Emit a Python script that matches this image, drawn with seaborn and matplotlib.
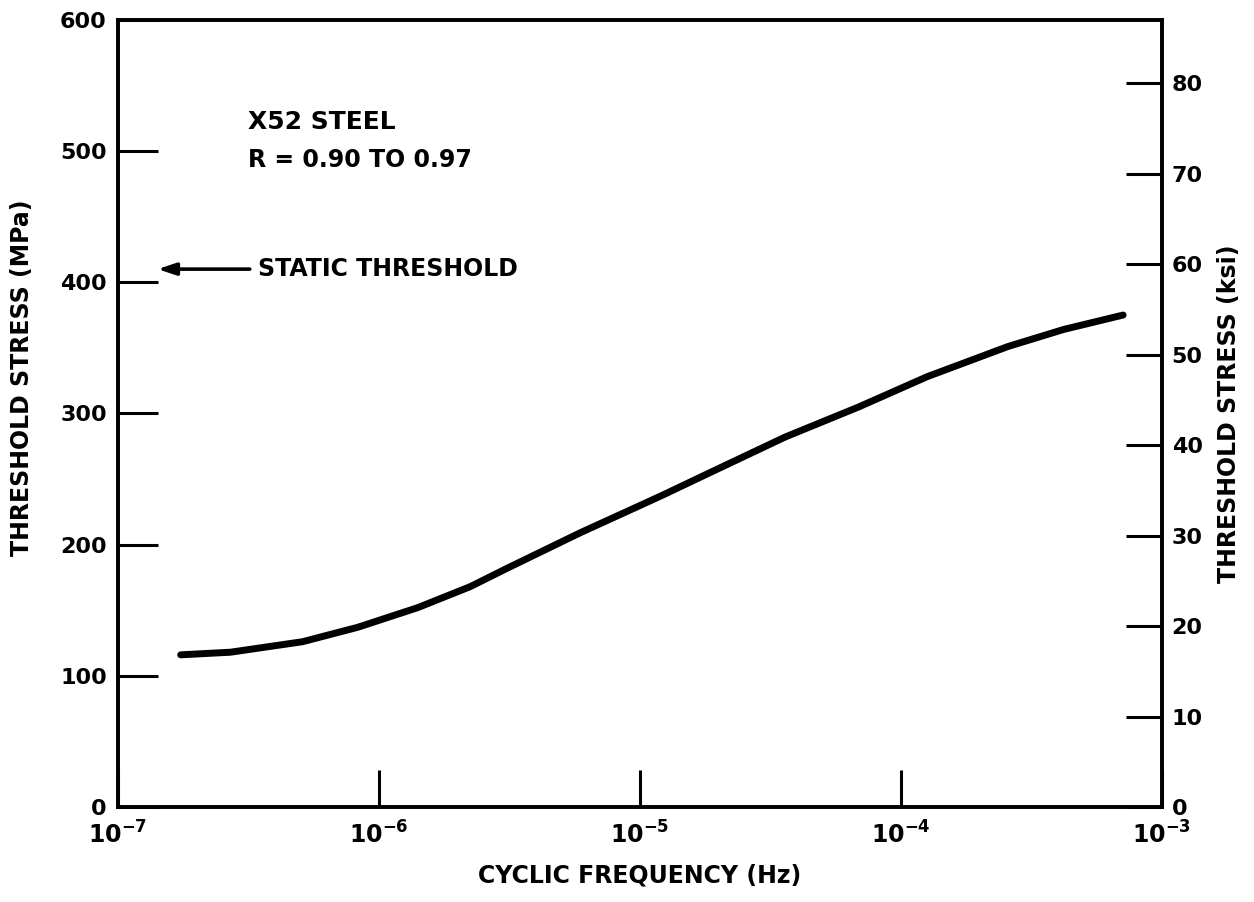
import numpy as np
import pandas as pd
import matplotlib
matplotlib.use("Agg")
import matplotlib.pyplot as plt
import seaborn as sns
from matplotlib.ticker import FixedLocator, NullLocator

# ---- data ----
freq_hz = [1.74e-7, 2.7e-7, 5.1e-7, 8.3e-7, 1.41e-6, 2.24e-6, 3.1e-6,
           5.9e-6, 9.8e-6, 1.23e-5, 1.86e-5, 3.6e-5, 6.9e-5, 1.26e-4,
           2.57e-4, 4.2e-4, 7.1e-4]
stress_mpa = [116, 118, 126, 137, 152, 168, 182,
              209, 229, 238, 255, 282, 305, 328,
              351, 364, 375]
static_threshold_mpa = 410
x_ticks = [1e-7, 1e-6, 1e-5, 1e-4, 1e-3]
x_tick_labels = ["10^{-7}", "10^{-6}", "10^{-5}", "10^{-4}", "10^{-3}"]
y_ticks_mpa = [0, 100, 200, 300, 400, 500, 600]
y_ticks_ksi = [0, 10, 20, 30, 40, 50, 60, 70, 80]
MPA_PER_KSI = 6.895

sns.set_theme(style="white")
FONT = "DejaVu Sans"
plt.rcParams["font.family"] = [FONT]
plt.rcParams["font.weight"] = "bold"
plt.rcParams["mathtext.fontset"] = "dejavusans"
plt.rcParams["mathtext.default"] = "bf"

df = pd.DataFrame({"freq": freq_hz, "stress": stress_mpa})

fig = plt.figure(figsize=(12.54, 9.02), dpi=100)
ax = fig.add_axes([0.094, 0.1053, 0.8326, 0.8727])

sns.lineplot(data=df, x="freq", y="stress", ax=ax, color="black",
             linewidth=5.0, solid_capstyle="round", solid_joinstyle="round",
             sort=True)
ax.set_xscale("log")
ax.set_xlim(1e-7, 1e-3)
ax.set_ylim(0, 600)

for s in ax.spines.values():
    s.set_linewidth(2.6)
    s.set_color("black")

ax.xaxis.set_major_locator(FixedLocator(x_ticks))
ax.xaxis.set_minor_locator(NullLocator())
ax.set_xticklabels(["$\\mathbf{" + t + "}$" for t in x_tick_labels])
ax.set_yticks(y_ticks_mpa)
ax.set_yticklabels([str(v) for v in y_ticks_mpa])

ax.tick_params(axis="y", which="major", direction="in", length=29, width=2.2,
               labelsize=16, pad=8, left=True, right=False, colors="black")
ax.tick_params(axis="x", which="major", direction="in", length=27, width=2.2,
               labelsize=17, pad=10, bottom=True, top=False, colors="black")

ax.set_xlabel("CYCLIC FREQUENCY (Hz)", fontsize=17, fontweight="bold",
              labelpad=11, color="black")
ax.set_ylabel("THRESHOLD STRESS (MPa)", fontsize=17, fontweight="bold",
              color="black")
ax.yaxis.set_label_coords(-0.08, 0.545)

# right axis in ksi
ax2 = ax.twinx()
ax2.set_ylim(0, 600 / MPA_PER_KSI)
ax2.set_yticks(y_ticks_ksi)
ax2.set_yticklabels([str(v) for v in y_ticks_ksi])
ax2.tick_params(axis="y", direction="in", length=26, width=2.2, labelsize=16,
                pad=7, colors="black")
ax2.set_ylabel("THRESHOLD STRESS (ksi)", fontsize=17, fontweight="bold",
               labelpad=10, color="black")
for s in ax2.spines.values():
    s.set_linewidth(2.6)
    s.set_color("black")

# annotations
ax.text(3.15e-7, 522, "X52 STEEL", fontsize=18, fontweight="bold",
        va="center", ha="left", color="black")
ax.text(3.15e-7, 493, "R = 0.90 TO 0.97", fontsize=17, fontweight="bold",
        va="center", ha="left", color="black")
ax.annotate("", xy=(1.42e-7, static_threshold_mpa),
            xytext=(3.2e-7, static_threshold_mpa),
            arrowprops=dict(arrowstyle="-|>,head_length=0.9,head_width=0.3",
                            color="black", lw=2.6, shrinkA=0, shrinkB=0))
ax.text(3.45e-7, static_threshold_mpa, "STATIC THRESHOLD", fontsize=17,
        fontweight="bold", va="center", ha="left", color="black")

fig.savefig("out.png", dpi=100, facecolor="white")
